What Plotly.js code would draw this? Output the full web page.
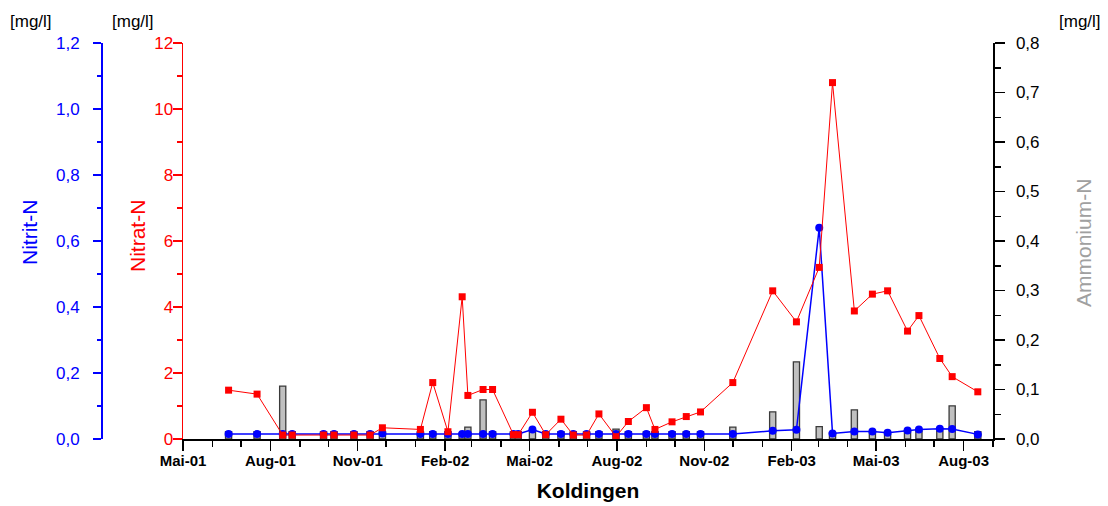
<!DOCTYPE html>
<html>
<head>
<meta charset="utf-8">
<script src="https://cdn.plot.ly/plotly-3.0.1.min.js"></script>
<style>html,body{margin:0;padding:0;background:#fff;}#chart{width:1108px;height:506px;}</style>
</head>
<body>
<div id="chart"></div>
<script>
// Sampling dates
const dates = [
  '2001-06-18','2001-07-18','2001-08-14','2001-08-24','2001-09-26','2001-10-07','2001-10-28','2001-11-14','2001-11-27',
  '2002-01-06','2002-01-19','2002-02-04','2002-02-19','2002-02-25','2002-03-13','2002-03-23','2002-04-14','2002-04-19',
  '2002-05-04','2002-05-18','2002-06-03','2002-06-16','2002-06-30','2002-07-13','2002-07-31','2002-08-13','2002-09-01',
  '2002-09-10','2002-09-28','2002-10-13','2002-10-28','2002-12-01','2003-01-12','2003-02-06','2003-03-02','2003-03-16',
  '2003-04-08','2003-04-27','2003-05-13','2003-06-03','2003-06-15','2003-07-07','2003-07-20','2003-08-16'
];
// Nitrat-N [mg/l]
const nitrat = [
  1.48,1.36,0.12,0.12,0.12,0.12,0.12,0.12,0.34,
  0.29,1.71,0.22,4.31,1.32,1.50,1.50,0.13,0.13,
  0.81,0.13,0.60,0.12,0.12,0.76,0.07,0.53,0.95,
  0.29,0.52,0.68,0.82,1.71,4.49,3.55,5.20,10.80,
  3.88,4.39,4.49,3.27,3.74,2.44,1.89,1.43
];
// Nitrit-N [mg/l]
const nitrit = [
  0.015,0.015,0.015,0.015,0.015,0.015,0.015,0.015,0.017,
  0.015,0.015,0.015,0.015,0.015,0.015,0.015,0.015,0.015,
  0.029,0.015,0.015,0.015,0.015,0.015,0.015,0.015,0.015,
  0.015,0.015,0.015,0.015,0.015,0.025,0.028,0.640,0.017,
  0.023,0.023,0.019,0.026,0.029,0.031,0.030,0.014
];
// Ammonium-N [mg/l]
const ammonium = [
  0.015,0.015,0.107,0.015,0.015,0.015,0.015,0.015,0.015,
  0.015,0.015,0.015,0.012,0.024,0.079,0.015,0.015,0.015,
  0.018,0.015,0.015,0.015,0.015,0.015,0.020,0.015,0.015,
  0.015,0.015,0.015,0.015,0.024,0.055,0.156,0.025,0.013,
  0.059,0.015,0.010,0.016,0.016,0.016,0.067,0.015
];
const xTickVals = ['2001-05-01','2001-08-01','2001-11-01','2002-02-01','2002-05-01','2002-08-01','2002-11-01','2003-02-01','2003-05-01','2003-08-01'];
const xTickText = ['Mai-01','Aug-01','Nov-01','Feb-02','Mai-02','Aug-02','Nov-02','Feb-03','Mai-03','Aug-03'];
const xRange = ['2001-05-01','2003-09-01'];

const FONT = 'Liberation Sans, Arial, Helvetica, sans-serif';
const DAY = 86400000;

const traces = [
  {
    type: 'bar', name: 'Ammonium-N', x: dates, y: ammonium, xaxis: 'x', yaxis: 'y',
    width: dates.map(() => 6.5 * DAY),
    marker: {color: '#c0c0c0', line: {color: '#3a3a3a', width: 1.3}},
    hoverinfo: 'x+y'
  },
  {
    type: 'scatter', mode: 'lines+markers', name: 'Nitrit-N', x: dates, y: nitrit, xaxis: 'x', yaxis: 'y2',
    line: {color: '#0000ff', width: 1.5},
    marker: {color: '#0000ff', symbol: 'circle', size: 8}
  },
  {
    type: 'scatter', mode: 'lines+markers', name: 'Nitrat-N', x: dates, y: nitrat, xaxis: 'x', yaxis: 'y3',
    line: {color: '#ff0000', width: 1},
    marker: {color: '#ff0000', symbol: 'square', size: 7}
  }
];

const L = 20, R = 20, W = 1108;
const pw = W - L - R;
const px = v => (v - L) / pw;

const layout = {
  width: 1108, height: 506,
  margin: {l: L, r: R, t: 43, b: 67, pad: 0},
  paper_bgcolor: '#fff', plot_bgcolor: '#fff',
  showlegend: false,
  separators: ', ',
  font: {family: FONT, size: 17, color: '#000'},
  bargap: 0,
  xaxis: {
    type: 'date', range: xRange, domain: [px(183), px(993)], anchor: 'y',
    tickmode: 'array', tickvals: xTickVals, ticktext: xTickText,
    tickfont: {family: FONT, size: 15, weight: 'bold', color: '#000'},
    ticklabelstandoff: -3,
    ticks: 'outside', ticklen: 10, tickwidth: 1.5, tickcolor: '#000',
    minor: {tickmode: 'linear', tick0: '2001-05-01', dtick: 'M1', ticks: 'outside', ticklen: 6, tickwidth: 1.5, tickcolor: '#000', showgrid: false},
    showline: true, linecolor: '#000', linewidth: 1.5,
    showgrid: false, zeroline: false,
    title: {text: 'Koldingen', font: {family: FONT, size: 21, weight: 'bold', color: '#000'}, standoff: 16}
  },
  xaxis2: {
    type: 'date', range: xRange, overlaying: 'x', anchor: 'y', side: 'top',
    tickmode: 'array', tickvals: xTickVals, showticklabels: false,
    ticks: 'inside', ticklen: 10, tickwidth: 1.5, tickcolor: '#000',
    minor: {tickmode: 'linear', tick0: '2001-05-01', dtick: 'M1', ticks: 'inside', ticklen: 6, tickwidth: 1.5, tickcolor: '#000', showgrid: false},
    showline: true, linecolor: '#000', linewidth: 1.5,
    showgrid: false, zeroline: false
  },
  yaxis: {
    range: [0, 0.8], side: 'right', anchor: 'x',
    tickmode: 'linear', tick0: 0, dtick: 0.1, tickformat: '.1f',
    ticks: 'outside', ticklen: 10, tickwidth: 1.5, tickcolor: '#000',
    minor: {dtick: 0.05, ticks: 'outside', ticklen: 6, tickwidth: 1.5, tickcolor: '#000', showgrid: false},
    tickfont: {family: FONT, size: 17, color: '#000'},
    ticklabelstandoff: 8,
    showline: true, linecolor: '#000', linewidth: 1.5,
    showgrid: false, zeroline: false
  },
  yaxis2: {
    range: [0, 1.2], side: 'left', overlaying: 'y', anchor: 'free', position: px(101),
    tickmode: 'linear', tick0: 0, dtick: 0.2, tickformat: '.1f',
    ticks: 'outside', ticklen: 8, tickwidth: 1.5, tickcolor: '#0000ff',
    minor: {dtick: 0.1, ticks: 'outside', ticklen: 4, tickwidth: 1.5, tickcolor: '#0000ff', showgrid: false},
    tickfont: {family: FONT, size: 17, color: '#0000ff'},
    ticklabelstandoff: 10,
    showline: true, linecolor: '#0000ff', linewidth: 1.5,
    showgrid: false, zeroline: false
  },
  yaxis3: {
    range: [0, 12], side: 'left', overlaying: 'y', anchor: 'x',
    tickmode: 'linear', tick0: 0, dtick: 2, tickformat: 'd',
    ticks: 'outside', ticklen: 9, tickwidth: 1.5, tickcolor: '#ff0000',
    minor: {dtick: 1, ticks: 'outside', ticklen: 5, tickwidth: 1.5, tickcolor: '#ff0000', showgrid: false},
    tickfont: {family: FONT, size: 17, color: '#ff0000'},
    ticklabelstandoff: -4,
    showline: true, linecolor: '#ff0000', linewidth: 1.5,
    showgrid: false, zeroline: false
  },
  annotations: [
    {text: '[mg/l]', xref: 'paper', yref: 'paper', x: px(31), y: 1, yshift: 22, xanchor: 'center', yanchor: 'middle', showarrow: false, font: {family: FONT, size: 17, color: '#000'}},
    {text: '[mg/l]', xref: 'paper', yref: 'paper', x: px(133), y: 1, yshift: 22, xanchor: 'center', yanchor: 'middle', showarrow: false, font: {family: FONT, size: 17, color: '#000'}},
    {text: '[mg/l]', xref: 'paper', yref: 'paper', x: px(1080), y: 1, yshift: 22, xanchor: 'center', yanchor: 'middle', showarrow: false, font: {family: FONT, size: 17, color: '#000'}},
    {text: 'Nitrit-N', xref: 'paper', yref: 'paper', x: px(29), y: (439 - 233) / 396, xanchor: 'center', yanchor: 'middle', textangle: -90, showarrow: false, font: {family: FONT, size: 21, color: '#0000ff'}},
    {text: 'Nitrat-N', xref: 'paper', yref: 'paper', x: px(137), y: (439 - 236) / 396, xanchor: 'center', yanchor: 'middle', textangle: -90, showarrow: false, font: {family: FONT, size: 21, color: '#ff0000'}},
    {text: 'Ammonium-N', xref: 'paper', yref: 'paper', x: px(1084), y: (439 - 243) / 396, xanchor: 'center', yanchor: 'middle', textangle: -90, showarrow: false, font: {family: FONT, size: 21, color: '#a0a0a0'}}
  ]
};

Plotly.newPlot('chart', traces, layout, {displayModeBar: false, staticPlot: true});
</script>
</body>
</html>
